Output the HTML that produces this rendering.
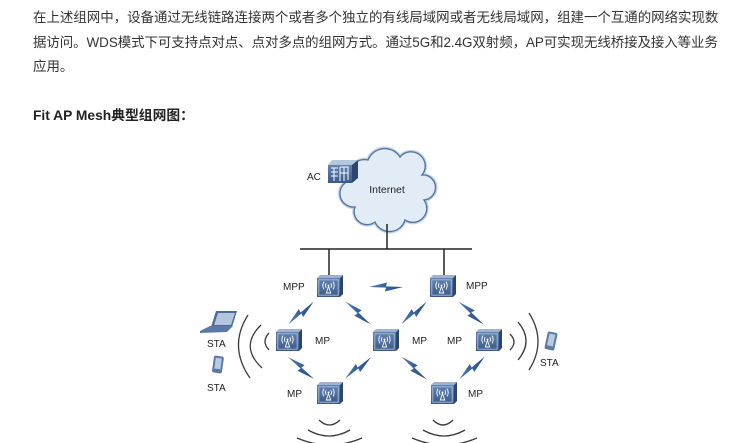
<!DOCTYPE html>
<html><head><meta charset="utf-8">
<style>
html,body{margin:0;padding:0;background:#fff;}
body{width:750px;height:443px;overflow:hidden;position:relative;}
.p{position:absolute;left:33px;top:6px;font-family:"Liberation Sans","Noto Sans CJK SC",sans-serif;font-size:13.45px;line-height:24.5px;color:#333;white-space:nowrap;}
.t{position:absolute;left:33px;top:104px;font-family:"Liberation Sans","Noto Sans CJK SC",sans-serif;font-size:13.8px;line-height:24px;color:#222;font-weight:bold;white-space:nowrap;}
svg{position:absolute;left:0;top:0;}
svg text{font-family:"Liberation Sans",sans-serif;font-size:10px;fill:#222;}
</style></head><body>
<div class="p">在上述组网中，设备通过无线链路连接两个或者多个独立的有线局域网或者无线局域网，组建一个互通的网络实现数<br><span style="letter-spacing:-0.05px">据访问。WDS模式下可支持点对点、点对多点的组网方式。通过5G和2.4G双射频，AP可实现无线桥接及接入等业务</span><br>应用。</div>
<div class="t">Fit AP Mesh典型组网图：</div>
<svg width="750" height="443" viewBox="0 0 750 443">
<defs>
<linearGradient id="fg" x1="0" y1="0" x2="0" y2="1">
<stop offset="0" stop-color="#6283b2"/><stop offset="1" stop-color="#3a5988"/>
</linearGradient>
<linearGradient id="bg" x1="0" y1="0" x2="1" y2="0">
<stop offset="0" stop-color="#4c78b4"/><stop offset="1" stop-color="#244a80"/>
</linearGradient>
<g id="ap">
<polygon points="0,3 3,0 26,0 23,3" fill="#9fb3cf"/>
<polygon points="23,3 26,0 26,19 23,22" fill="#2b456e"/>
<rect x="0" y="3" width="23" height="19" fill="url(#fg)"/>
<rect x="1.8" y="4.8" width="19.4" height="15.4" fill="none" stroke="#a9bdd8" stroke-width="0.9"/>
<circle cx="11.5" cy="10.5" r="1" fill="#fff"/>
<path d="M9.2,8.2 Q7.8,10.5 9.2,12.8 M13.8,8.2 Q15.2,10.5 13.8,12.8 M7,6.6 Q4.6,10.5 7,14.4 M16,6.6 Q18.4,10.5 16,14.4" fill="none" stroke="#fff" stroke-width="0.9"/>
<polygon points="11.5,11.5 9.3,18 13.7,18" fill="none" stroke="#fff" stroke-width="0.9"/>
</g>
<polygon id="bolt" points="-17,0 1,-4.5 0,-0.6 17,0 -1,4.5 0,0.6" fill="url(#bg)"/>
</defs>

<!-- cloud -->
<path d="M352,180 A14 14 0 0 1 368,160 A18 18 0 0 1 400,157 A14 14 0 0 1 422,175 A12 12 0 0 1 424,200 A14 14 0 0 1 405,220 A16 16 0 0 1 375,222 A13 13 0 0 1 355,207 A13 13 0 0 1 352,180 Z" fill="none" stroke="#c5d5e8" stroke-width="4"/>
<path d="M352,180 A14 14 0 0 1 368,160 A18 18 0 0 1 400,157 A14 14 0 0 1 422,175 A12 12 0 0 1 424,200 A14 14 0 0 1 405,220 A16 16 0 0 1 375,222 A13 13 0 0 1 355,207 A13 13 0 0 1 352,180 Z" fill="#e2ecf7" stroke="#5476a3" stroke-width="1.4"/>
<text x="387" y="193" text-anchor="middle" style="font-size:10.5px">Internet</text>

<!-- AC -->
<polygon points="328,165 332,160 358,160 352,165" fill="#b5c5dc"/>
<polygon points="352,165 358,160 358,178 352,183" fill="#2c4670"/>
<rect x="328" y="165" width="24" height="18" fill="url(#fg)"/>
<path d="M331,168 H338 M331,172 H338 M331,176 H338 M334,168 V181 M340,167 V181 M340,167 H348 V180 M340,173 H348 M344,167 V181" fill="none" stroke="#fff" stroke-width="1"/>
<text x="307" y="180">AC</text>

<!-- wires -->
<g stroke="#222" stroke-width="1.5" fill="none">
<line x1="387" y1="224" x2="387" y2="249"/>
<line x1="300" y1="249" x2="472" y2="249"/>
<line x1="329" y1="249" x2="329" y2="276"/>
<line x1="444" y1="249" x2="444" y2="276"/>
</g>

<!-- APs -->
<use href="#ap" x="317" y="275"/>
<use href="#ap" x="430" y="275"/>
<use href="#ap" x="276" y="329"/>
<use href="#ap" x="373" y="329"/>
<use href="#ap" x="476" y="329"/>
<use href="#ap" x="317" y="382"/>
<use href="#ap" x="431" y="382"/>

<!-- bolts -->
<use href="#bolt" transform="translate(386,287)"/>
<use href="#bolt" transform="translate(301,313) rotate(-42)"/>
<use href="#bolt" transform="translate(358,313) rotate(42)"/>
<use href="#bolt" transform="translate(301,368) rotate(40)"/>
<use href="#bolt" transform="translate(358,368) rotate(-40)"/>
<use href="#bolt" transform="translate(414,313) rotate(-42)"/>
<use href="#bolt" transform="translate(471,313) rotate(42)"/>
<use href="#bolt" transform="translate(414,368) rotate(42)"/>
<use href="#bolt" transform="translate(472,368) rotate(-42)"/>

<!-- arcs -->
<g stroke="#3a3a3a" stroke-width="1.3" fill="none">
<path d="M248,315 Q228,346.5 250,378"/>
<path d="M261,325 Q239,346.5 262,368"/>
<path d="M269,333 Q261,341.5 269,350"/>
<path d="M510,334 Q518,342 510,350"/>
<path d="M518,322 Q534,341 518,360"/>
<path d="M529,313 Q547,341.5 529,370"/>
<path d="M319,420 Q329.5,430 340,420"/>
<path d="M308,430 Q329,442 350,430"/>
<path d="M297,438 Q329.5,452 362,438"/>
<path d="M433,420 Q443,430 453,420"/>
<path d="M423,430 Q444,442 465,430"/>
<path d="M412,438 Q444.5,452 477,438"/>
</g>

<!-- laptop -->
<polygon points="216,311 237,311 232,327 211,327" fill="#4a6a9a"/>
<polygon points="218,313 235,313 231,325 214,325" fill="#b4c5dd"/>
<polygon points="200,331 210,326 233,326 227,332 200,333" fill="#5a79a6"/>
<!-- phones -->
<rect x="213" y="356" width="10" height="17" rx="2" fill="#5c79a3" transform="rotate(8 218 364)"/>
<rect x="215" y="358" width="6" height="11" fill="#b9c9df" transform="rotate(8 218 364)"/>
<rect x="546" y="332" width="10" height="18" rx="2" fill="#5c79a3" transform="rotate(12 551 341)"/>
<rect x="548" y="334" width="6" height="12" fill="#b9c9df" transform="rotate(12 551 341)"/>

<!-- labels -->
<text x="283" y="290">MPP</text>
<text x="466" y="289">MPP</text>
<text x="207" y="347">STA</text>
<text x="207" y="391">STA</text>
<text x="540" y="366">STA</text>
<text x="315" y="344">MP</text>
<text x="412" y="344">MP</text>
<text x="447" y="344">MP</text>
<text x="287" y="397">MP</text>
<text x="468" y="397">MP</text>
</svg>
</body></html>
